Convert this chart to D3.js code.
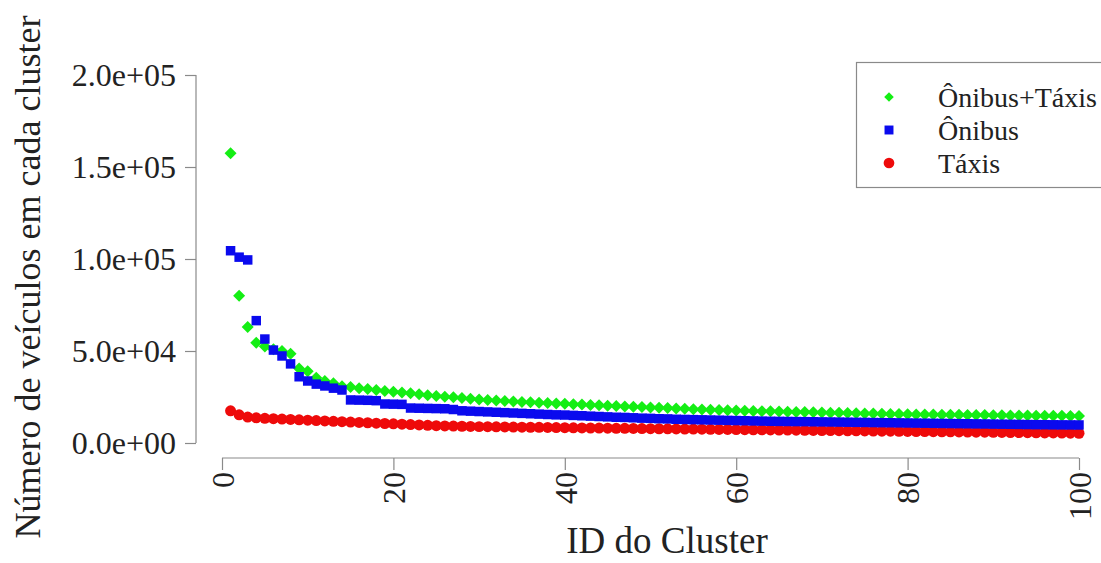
<!DOCTYPE html>
<html>
<head>
<meta charset="utf-8">
<script src="https://cdn.jsdelivr.net/npm/d3@7"></script>
<style>
  body { margin: 0; background: #fff; }
  svg text { font-family: "Liberation Serif", "Times New Roman", Times, "DejaVu Serif", serif; fill: #222; }
</style>
</head>
<body>
<svg id="chart" width="1101" height="563"></svg>
<script>
// values (clusters 1..100, each series sorted on its own)
var onibusTaxis = [
	157500, 80000, 63000, 54500, 52500, 51000, 50000, 48500, 40500, 39000,
	35500, 33700, 32500, 30800, 30400, 29800, 29300, 28800, 28300, 27900,
	27500, 27000, 26500, 26000, 25600, 25200, 24800, 24400, 24000, 23700,
	23400, 23100, 22800, 22600, 22300, 22100, 21900, 21700, 21500, 21300,
	21100, 20900, 20700, 20500, 20300, 20100, 19900, 19700, 19500, 19300,
	19200, 19000, 18800, 18600, 18400, 18200, 18100, 17900, 17800, 17600,
	17500, 17400, 17300, 17200, 17100, 17000, 16900, 16800, 16700, 16600,
	16500, 16400, 16300, 16200, 16100, 16000, 15900, 15800, 15700, 15600,
	15550, 15500, 15450, 15400, 15350, 15300, 15250, 15200, 15150, 15100,
	15050, 15000, 14950, 14900, 14850, 14800, 14780, 14750, 14720, 14700
];
var onibus = [
	104500, 101000, 99500, 66500, 56500, 50500, 47300, 43000, 36000, 33700,
	32000, 31000, 29800, 28800, 23400, 23300, 23200, 23000, 21200, 21100,
	21000, 19000, 18900, 18800, 18700, 18600, 18200, 17500, 17300, 17100,
	16900, 16700, 16500, 16300, 16100, 15900, 15700, 15500, 15300, 15200,
	15000, 14800, 14600, 14400, 14200, 14000, 13900, 13700, 13500, 13400,
	13200, 13100, 12900, 12800, 12700, 12600, 12500, 12400, 12300, 12200,
	12100, 12000, 11900, 11800, 11750, 11700, 11650, 11600, 11540, 11480,
	11420, 11360, 11300, 11240, 11180, 11120, 11060, 11000, 10940, 10880,
	10820, 10760, 10700, 10640, 10580, 10520, 10460, 10400, 10340, 10280,
	10220, 10160, 10100, 10040, 9980, 9940, 9900, 9860, 9830, 9800
];
var taxis = [
	17500, 15300, 14100, 13700, 13400, 13200, 13000, 12800, 12600, 12400,
	12200, 12000, 11800, 11600, 11400, 11200, 11000, 10800, 10600, 10400,
	10200, 10000, 9800, 9600, 9400, 9300, 9200, 9100, 9000, 8900,
	8850, 8800, 8740, 8680, 8620, 8560, 8500, 8440, 8380, 8320,
	8260, 8200, 8150, 8100, 8050, 8000, 7950, 7900, 7850, 7800,
	7750, 7700, 7650, 7600, 7550, 7500, 7450, 7400, 7350, 7300,
	7250, 7200, 7150, 7100, 7050, 7000, 6950, 6900, 6850, 6800,
	6750, 6700, 6650, 6600, 6550, 6500, 6450, 6400, 6350, 6300,
	6250, 6200, 6150, 6100, 6050, 6000, 5950, 5900, 5850, 5800,
	5750, 5700, 5650, 5600, 5550, 5500, 5450, 5400, 5350, 5300
];
var xTicks = [0, 20, 40, 60, 80, 100];
var yTicks = [0, 50000, 100000, 150000, 200000];
var yTickLabels = ["0.0e+00", "5.0e+04", "1.0e+05", "1.5e+05", "2.0e+05"];
var legendLabels = ["Ônibus+Táxis", "Ônibus", "Táxis"];

var colorBoth = "#14ee14";
var colorBus = "#0a0aee";
var colorTaxi = "#ee0a0a";
var axisColor = "#8a8a8a";
var serif = '"Liberation Serif", "Times New Roman", Times, "DejaVu Serif", serif';

const svg = d3.select('svg#chart');

const x = d3.scaleLinear().domain([0, 100]).range([222, 1079]);
const y = d3.scaleLinear().domain([0, 200000]).range([443, 75]);

// axes (R style: detached from the plot, light grey)
const yAxis = svg.append('g')
	.attr('transform', 'translate(196,0)')
	.call(d3.axisLeft(y).tickValues(yTicks).tickSize(11).tickPadding(9)
		.tickFormat((d, i) => yTickLabels[i]));
const xAxis = svg.append('g')
	.attr('transform', 'translate(0,458)')
	.call(d3.axisBottom(x).tickValues(xTicks).tickSize(12).tickPadding(8));

[xAxis, yAxis].forEach(g => {
	g.attr('font-family', null).attr('font-size', null);
	g.select('.domain').attr('stroke', axisColor).attr('stroke-width', 1.2);
	g.selectAll('.tick line').attr('stroke', axisColor).attr('stroke-width', 1.2);
	g.selectAll('.tick text')
		.style('font-family', serif)
		.style('font-size', '32px')
		.attr('fill', '#222');
});
// d3 draws outer ticks on the domain path; replace with plain lines
yAxis.select('.domain').attr('d', 'M0,' + y(0) + 'V' + y(200000));
xAxis.select('.domain').attr('d', 'M' + x(0) + ',0H' + x(100));

// x tick labels are vertical (las = 2)
xAxis.selectAll('.tick text')
	.attr('transform', 'rotate(-90)')
	.attr('text-anchor', 'end')
	.attr('x', -14)
	.attr('y', 0)
	.attr('dy', '0.35em');

// axis titles
svg.append('text')
	.attr('x', 667)
	.attr('y', 553)
	.attr('text-anchor', 'middle')
	.style('font-family', serif)
	.style('font-size', '37px')
	.text('ID do Cluster');
svg.append('text')
	.attr('transform', 'translate(40,277) rotate(-90)')
	.attr('text-anchor', 'middle')
	.style('font-family', serif)
	.style('font-size', '36px')
	.text('Número de veículos em cada cluster');

// markers
const diamond = d3.symbol().type(d3.symbolSquare).size(72);
const square = d3.symbol().type(d3.symbolSquare).size(90);
const circle = d3.symbol().type(d3.symbolCircle).size(95);

function drawSeries(values, path, color, rotate) {
	svg.append('g').selectAll('path')
		.data(values)
		.enter().append('path')
		.attr('d', path)
		.attr('fill', color)
		.attr('transform', (d, i) => 'translate(' + x(i + 1) + ',' + y(d) + ')' + (rotate ? ' rotate(45)' : ''));
}

drawSeries(onibusTaxis, diamond, colorBoth, true);
drawSeries(taxis, circle, colorTaxi, false);
drawSeries(onibus, square, colorBus, false);

// legend (box runs past the right edge, as in the original)
const legend = svg.append('g');
legend.append('rect')
	.attr('x', 856.5).attr('y', 62.5)
	.attr('width', 260).attr('height', 125)
	.attr('fill', '#fff')
	.attr('stroke', axisColor)
	.attr('stroke-width', 1.2);

const legendRows = [
	{ label: legendLabels[0], path: d3.symbol().type(d3.symbolSquare).size(46), color: colorBoth, rot: true },
	{ label: legendLabels[1], path: d3.symbol().type(d3.symbolSquare).size(80), color: colorBus, rot: false },
	{ label: legendLabels[2], path: d3.symbol().type(d3.symbolCircle).size(90), color: colorTaxi, rot: false }
];
const rowY = d3.scalePoint().domain(legendLabels).range([97, 163]);

legendRows.forEach(r => {
	legend.append('path')
		.attr('d', r.path)
		.attr('fill', r.color)
		.attr('transform', 'translate(889,' + rowY(r.label) + ')' + (r.rot ? ' rotate(45)' : ''));
	legend.append('text')
		.attr('x', 938)
		.attr('y', rowY(r.label))
		.attr('dy', '0.35em')
		.style('font-family', serif)
		.style('font-size', '28px')
		.text(r.label);
});
</script>
</body>
</html>
